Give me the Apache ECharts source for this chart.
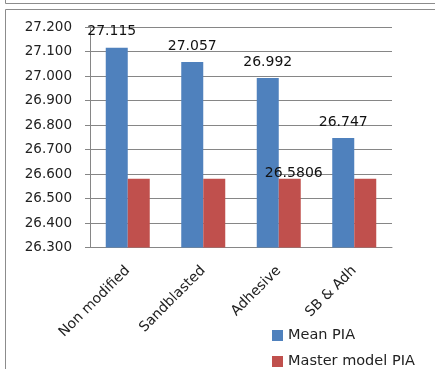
<!DOCTYPE html>
<html>
<head>
<meta charset="utf-8">
<script src="https://cdn.jsdelivr.net/npm/echarts@6/dist/echarts.min.js"></script>
<style>
  html, body { margin: 0; padding: 0; background: #ffffff; }
  #main { width: 435px; height: 369px; }
</style>
</head>
<body>
<div id="main"></div>
<script>
// data
var categories = ['Non modified', 'Sandblasted', 'Adhesive', 'SB & Adh'];
var meanPIA = [27.115, 27.057, 26.992, 26.747];
var masterPIA = [26.5806, 26.5806, 26.5806, 26.5806];
var seriesNames = ['Mean PIA', 'Master model PIA'];

const chart = echarts.init(document.getElementById('main'), null, {
  renderer: 'canvas',
  devicePixelRatio: 1
});

var font = 'DejaVu Sans';

// only the first blue label is pushed to the left, only the third red one is shown
var meanData = meanPIA.map(function (v, i) {
  return {
    value: v,
    label: { offset: i === 0 ? [-5, 0] : [0, 0] }
  };
});
var masterData = masterPIA.map(function (v, i) {
  return {
    value: v,
    label: { show: i === 2 }
  };
});

var option = {
  backgroundColor: '#ffffff',
  color: ['#4f81bd', '#c0504d'],
  animation: false,
  textStyle: { fontFamily: font },
  graphic: [
    // frame of the picture above
    { type: 'polyline', shape: { points: [[5.5, 0], [5.5, 3.5], [440, 3.5]] },
      style: { stroke: '#8c8c8c', lineWidth: 1, fill: null } },
    // chart frame
    { type: 'polyline', shape: { points: [[440, 9.5], [5.5, 9.5], [5.5, 375]] },
      style: { stroke: '#8c8c8c', lineWidth: 1, fill: null } }
  ],
  grid: {
    left: 90,
    right: 43,
    top: 27,
    bottom: 121.5
  },
  legend: {
    orient: 'vertical',
    left: 272,
    top: 328,
    height: 60, // keep both items in one column
    padding: 0,
    icon: 'rect',
    itemWidth: 11,
    itemHeight: 11,
    itemGap: 11,
    textStyle: { fontFamily: font, fontSize: 14.5, color: '#222' },
    data: seriesNames
  },
  xAxis: {
    type: 'category',
    data: categories,
    axisLine: { lineStyle: { color: '#868686' } },
    axisTick: { length: 5, lineStyle: { color: '#868686' } },
    axisLabel: {
      rotate: 45,
      margin: 21,
      fontFamily: font,
      fontSize: 14,
      color: '#222'
    }
  },
  yAxis: {
    type: 'value',
    min: 26.3,
    max: 27.2,
    interval: 0.1,
    axisLine: { show: true, lineStyle: { color: '#868686' } },
    axisTick: { show: true, length: 5, lineStyle: { color: '#868686' } },
    splitLine: { lineStyle: { color: '#868686' } },
    axisLabel: {
      margin: 18,
      fontFamily: font,
      fontSize: 13.5,
      color: '#222',
      formatter: function (v) { return v.toFixed(3); }
    }
  },
  series: [
    {
      name: seriesNames[0],
      type: 'bar',
      barWidth: 22,
      barGap: '0%',
      data: meanData,
      label: {
        show: true,
        position: 'top',
        distance: 9,
        fontFamily: font,
        fontSize: 14,
        color: '#111'
      }
    },
    {
      name: seriesNames[1],
      type: 'bar',
      barWidth: 22,
      barGap: '0%',
      data: masterData,
      label: {
        position: 'top',
        distance: 0,
        offset: [4, 2],
        fontFamily: font,
        fontSize: 14,
        color: '#111',
        formatter: function (p) { return p.value.toFixed(4); }
      }
    }
  ]
};

chart.setOption(option);
</script>
</body>
</html>
